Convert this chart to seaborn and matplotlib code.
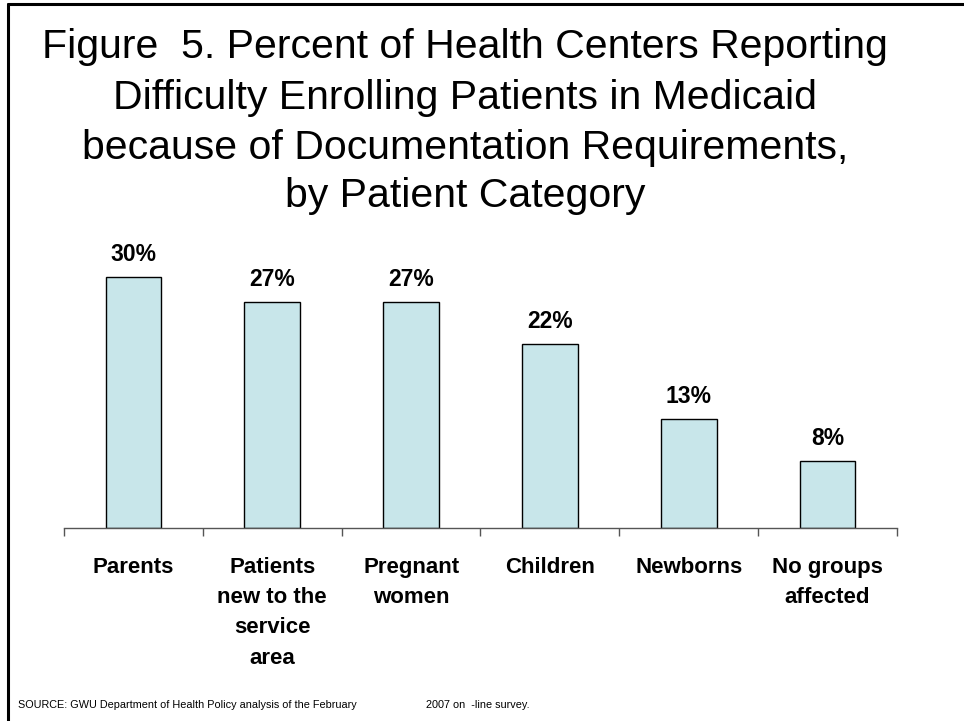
import matplotlib
matplotlib.use("Agg")
import matplotlib.pyplot as plt
from matplotlib.lines import Line2D
import pandas as pd
import seaborn as sns

# data
categories = ["Parents", "Patients\nnew to the\nservice\narea", "Pregnant\nwomen",
              "Children", "Newborns", "No groups\naffected"]
percent = [30, 27, 27, 22, 13, 8]
value_labels = ["30%", "27%", "27%", "22%", "13%", "8%"]

title_lines = ["Figure  5. Percent of Health Centers Reporting",
               "Difficulty Enrolling Patients in Medicaid",
               "because of Documentation Requirements,",
               "by Patient Category"]
source_left = "SOURCE: GWU Department of Health Policy analysis of the February"
source_right = "2007 on  -line survey."

df = pd.DataFrame({"cat": categories, "pct": percent})

sns.set_style("white")
plt.rcParams["font.family"] = ["Liberation Sans", "DejaVu Sans"]
plt.rcParams["text.color"] = "black"
plt.rcParams["xtick.color"] = "black"

W, H = 964, 721
fig = plt.figure(figsize=(W / 100, H / 100), dpi=100)
ax = fig.add_axes([64 / W, 1 - 528 / H, (897 - 64) / W, (528 - 250) / H])

sns.barplot(data=df, x="cat", y="pct", ax=ax, color="#c8e6ea",
            edgecolor="black", linewidth=1.0, width=0.4, saturation=1)

ax.set_xlim(-0.5, len(categories) - 0.5)
ax.set_ylim(0, (528 - 250) / 8.37)

for i, (v, lab) in enumerate(zip(percent, value_labels)):
    ax.annotate(lab, (i, v), xytext=(0, 16), textcoords="offset points",
                ha="center", va="center", fontsize=16.5, fontweight="bold",
                color="black")

for s in ["top", "right", "left"]:
    ax.spines[s].set_visible(False)
ax.spines["bottom"].set_color("#555555")
ax.spines["bottom"].set_linewidth(1.0)
ax.set_yticks([])
ax.set_xlabel("")
ax.set_ylabel("")

ax.set_xticks(range(len(categories)))
ax.set_xticklabels(categories, fontsize=16, fontweight="bold", linespacing=1.57,
                   va="top", color="black")
ax.tick_params(axis="x", which="major", bottom=False, length=0, pad=21)
ax.set_xticks([i - 0.5 for i in range(len(categories) + 1)], minor=True)
ax.tick_params(axis="x", which="minor", bottom=True, length=6, width=1.0,
               color="#555555", direction="out")

ys = [47, 98, 148, 196]
for line, y in zip(title_lines, ys):
    fig.text(465 / W, 1 - y / H, line, ha="center", va="center", fontsize=29.5,
             color="black")

fig.text(18 / W, 1 - 705 / H, source_left, fontsize=7.8, va="center", color="black")
fig.text(426 / W, 1 - 705 / H, source_right, fontsize=7.8, va="center", color="black")

# slide border (top and left edges)
fig.add_artist(Line2D([8 / W, 1], [1 - 4 / H, 1 - 4 / H], color="black", lw=2.2))
fig.add_artist(Line2D([8 / W, 8 / W], [0, 1 - 4 / H], color="black", lw=2.2))

fig.savefig("out.png", dpi=100)
